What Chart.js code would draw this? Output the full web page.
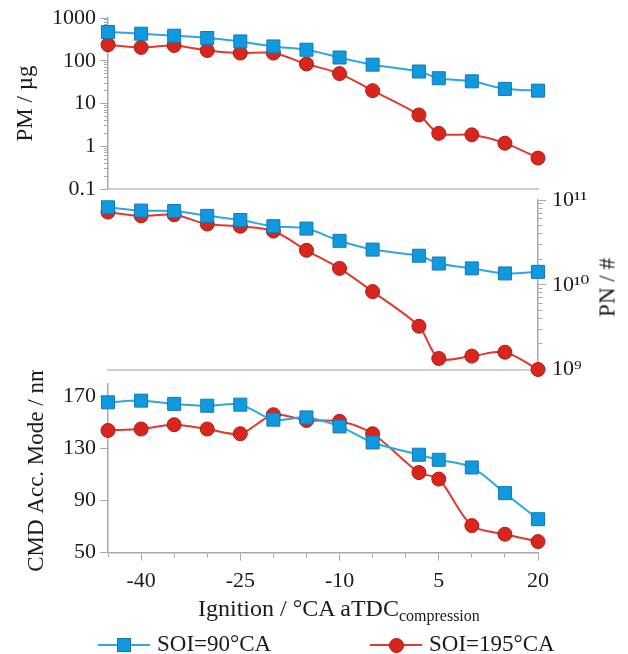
<!DOCTYPE html>
<html>
<head>
<meta charset="utf-8">
<script src="https://cdn.jsdelivr.net/npm/chart.js@4.4.1/dist/chart.umd.min.js"></script>
<style>
  body { margin: 0; background: #fff; }
  #page { position: relative; width: 628px; height: 654px; overflow: hidden; font-family: "Liberation Serif", "DejaVu Serif", serif; color: #1a1a1a; }
  .box { position: absolute; }
  .txt { position: absolute; white-space: nowrap; }
  .xtitle { left: 198px; top: 596px; font-size: 24px; line-height: 24px; }
  .xtitle sub { font-size: 16px; vertical-align: -5px; line-height: 0; }
  .pntitle { left: 567px; top: 276px; width: 80px; text-align: center; font-size: 23px; line-height: 23px; transform: rotate(-90deg); }
  .lgline { position: absolute; height: 2px; }
  .lgtext { position: absolute; font-size: 23px; line-height: 23px; top: 632px; white-space: nowrap; }
</style>
</head>
<body>
<div id="page">
  <div class="box" style="left:0;top:0;width:628px;height:205px"><canvas id="pmChart"></canvas></div>
  <div class="box" style="left:0;top:180px;width:628px;height:210px"><canvas id="pnChart"></canvas></div>
  <div class="box" style="left:0;top:370px;width:628px;height:230px"><canvas id="cmdChart"></canvas></div>

  <div class="txt xtitle">Ignition / °CA aTDC<sub>compression</sub></div>
  <div class="txt pntitle">PN / #</div>

  <div class="lgline" style="left:98px;top:644px;width:52px;background:#2aa8e2"></div>
  <div style="position:absolute;left:117px;top:638px;width:12px;height:12px;background:#0f9ae0;border:1px solid #1677b5"></div>
  <div class="lgtext" style="left:157px">SOI=90°CA</div>
  <div class="lgline" style="left:370px;top:644px;width:52px;background:#e2382e"></div>
  <div style="position:absolute;left:389px;top:638px;width:13px;height:13px;border-radius:50%;background:#d9261c;border:1px solid #a81d15"></div>
  <div class="lgtext" style="left:429px">SOI=195°CA</div>
</div>

<script>
// ignition timing in °CA aTDC
const ignition = [-45, -40, -35, -30, -25, -20, -15, -10, -5, 2, 5, 10, 15, 20];

// PM / µg
const pm90  = [470, 429, 385, 340, 283, 216, 181, 119, 81, 56, 39, 33, 22, 20];
const pm195 = [237, 205, 228, 174, 151, 151, 84, 50, 20, 5.4, 2.0, 1.85, 1.18, 0.53];

// PN / #
const pn90  = [8.2e10, 7.5e10, 7.4e10, 6.5e10, 5.8e10, 4.9e10, 4.6e10, 3.3e10, 2.6e10, 2.2e10, 1.78e10, 1.56e10, 1.36e10, 1.42e10];
const pn195 = [7.2e10, 6.5e10, 6.7e10, 5.2e10, 4.9e10, 4.3e10, 2.55e10, 1.56e10, 8.3e9, 3.24e9, 1.35e9, 1.44e9, 1.6e9, 1.0e9];

// CMD accumulation mode / nm
const cmd90  = [165.4, 166.7, 164.2, 162.8, 163.6, 152.1, 153.8, 146.9, 134.6, 125.2, 121.3, 115.4, 95.7, 75.7];
const cmd195 = [143.8, 144.9, 148.2, 144.9, 141.3, 155.9, 151.5, 150.8, 141.3, 111.5, 106.5, 70.8, 64.2, 58.5];

// tick labels
const xTicks = [-40, -25, -10, 5, 20];
const pmTicks = [0.1, 1, 10, 100, 1000];
const pnTicks = [1e9, 1e10, 1e11];
const pnTickLabels = ['10⁹', '10¹⁰', '10¹¹'];
const cmdTicks = [50, 90, 130, 170];

const series = [
    { label: 'SOI=90°CA', line: '#2aa8e2', fill: '#0f9ae0', edge: '#1677b5', style: 'rect', radius: 9.2 },
    { label: 'SOI=195°CA', line: '#e2382e', fill: '#d9261c', edge: '#a81d15', style: 'circle', radius: 7 }
];

const serif = '"Liberation Serif", "DejaVu Serif", serif';
Chart.defaults.font.family = serif;
Chart.defaults.color = '#1a1a1a';

const axisGray = '#a8a8a8';
const lightGray = '#cfcfcf';

function points(ys) {
    return ignition.map((x, i) => ({ x: x, y: ys[i] }));
}

function makeDataset(s, ys) {
    return {
        label: s.label,
        data: points(ys),
        borderColor: s.line,
        borderWidth: 2,
        backgroundColor: s.fill,
        pointStyle: s.style,
        pointRadius: s.radius,
        pointBackgroundColor: s.fill,
        pointBorderColor: s.edge,
        pointBorderWidth: 1,
        tension: 0.3,
        clip: false
    };
}

// log scale ticks: decades with 2..9 minor ticks
function logTicks(min, max) {
    const list = [];
    for (let e = Math.round(Math.log10(min)); e < Math.round(Math.log10(max)); e++) {
        for (let k = 1; k < 10; k++) list.push(k * Math.pow(10, e));
    }
    list.push(max);
    return list;
}

function isIn(list, v) {
    return list.findIndex(t => Math.abs(v - t) <= Math.abs(t) * 1e-9);
}

function fixSize(prop, size) {
    return function(scale) {
        scale[prop] = size;
        scale.paddingTop = 0;
        scale.paddingBottom = 0;
        scale.paddingLeft = 0;
        scale.paddingRight = 0;
    };
}

const tickFont = { family: serif, size: 22 };
const titleFont = { family: serif, size: 23 };

const baseOptions = {
    responsive: true,
    maintainAspectRatio: false,
    animation: false,
    events: [],
    plugins: { legend: { display: false }, tooltip: { enabled: false } }
};

function hiddenX(borderColor) {
    return {
        type: 'linear', min: -45, max: 20,
        ticks: { display: false },
        grid: { display: false, drawTicks: false },
        border: { display: !!borderColor, color: borderColor, width: 2 },
        afterFit: fixSize('height', 0)
    };
}

// --- top panel: PM ---
new Chart(document.getElementById('pmChart'), {
    type: 'line',
    data: { datasets: [makeDataset(series[0], pm90), makeDataset(series[1], pm195)] },
    options: Object.assign({}, baseOptions, {
        layout: { padding: { left: 0, right: 90, top: 18, bottom: 16 } },
        scales: {
            x: hiddenX(lightGray),
            y: {
                type: 'logarithmic', min: 0.1, max: 1000,
                afterBuildTicks: s => { s.ticks = logTicks(0.1, 1000).map(v => ({ value: v })); },
                afterFit: fixSize('width', 108),
                ticks: {
                    font: tickFont, padding: 4, autoSkip: false,
                    callback: v => isIn(pmTicks, v) >= 0 ? String(v) : ''
                },
                grid: {
                    drawOnChartArea: false, tickLength: 8, tickColor: axisGray, tickWidth: 1,
                    tickBorderDash: c => isIn(pmTicks, c.tick.value) >= 0 ? [] : [0, 4, 4, 100]
                },
                border: { display: true, color: axisGray, width: 1.5 },
                title: { display: true, text: 'PM / µg', font: titleFont, padding: { top: 12, bottom: 0 } }
            }
        }
    })
});

// --- middle panel: PN (right axis) ---
new Chart(document.getElementById('pnChart'), {
    type: 'line',
    data: { datasets: [makeDataset(series[0], pn90), makeDataset(series[1], pn195)] },
    options: Object.assign({}, baseOptions, {
        layout: { padding: { left: 108, right: 0, top: 20, bottom: 20.5 } },
        scales: {
            x: hiddenX(lightGray),
            y: {
                type: 'logarithmic', position: 'right', min: 1e9, max: 1e11,
                afterBuildTicks: s => { s.ticks = logTicks(1e9, 1e11).map(v => ({ value: v })); },
                afterFit: fixSize('width', 90),
                ticks: {
                    font: tickFont, padding: 6, autoSkip: false,
                    callback: v => { const i = isIn(pnTicks, v); return i >= 0 ? pnTickLabels[i] : ''; }
                },
                grid: {
                    drawOnChartArea: false, tickLength: 8, tickColor: axisGray, tickWidth: 1,
                    tickBorderDash: c => isIn(pnTicks, c.tick.value) >= 0 ? [] : [4, 100]
                },
                border: { display: true, color: axisGray, width: 1.5 }
            }
        }
    })
});

// --- bottom panel: CMD ---
new Chart(document.getElementById('cmdChart'), {
    type: 'line',
    data: { datasets: [makeDataset(series[0], cmd90), makeDataset(series[1], cmd195)] },
    options: Object.assign({}, baseOptions, {
        layout: { padding: { left: 0, right: 90, top: 13.3, bottom: 0 } },
        scales: {
            x: {
                type: 'linear', min: -45, max: 20,
                afterFit: fixSize('height', 47.3),
                ticks: {
                    stepSize: 5, font: tickFont, padding: 7, autoSkip: false, maxRotation: 0,
                    callback: v => xTicks.includes(v) ? String(v) : ''
                },
                grid: {
                    drawOnChartArea: false, tickLength: 8, tickColor: axisGray, tickWidth: 1,
                    tickBorderDash: c => xTicks.includes(c.tick.value) ? [] : [4, 100]
                },
                border: { display: true, color: axisGray, width: 1.5 }
            },
            y: {
                type: 'linear', min: 50, max: 180,
                afterBuildTicks: s => { s.ticks = cmdTicks.map(v => ({ value: v })); },
                afterFit: fixSize('width', 108),
                ticks: { font: tickFont, padding: 4, autoSkip: false },
                grid: { drawOnChartArea: false, tickLength: 8, tickColor: axisGray, tickWidth: 1 },
                border: { display: true, color: axisGray, width: 1.5 },
                title: { display: true, text: 'CMD Acc. Mode / nm', font: titleFont, padding: { top: 23, bottom: 0 } }
            }
        }
    })
});
</script>
</body>
</html>
